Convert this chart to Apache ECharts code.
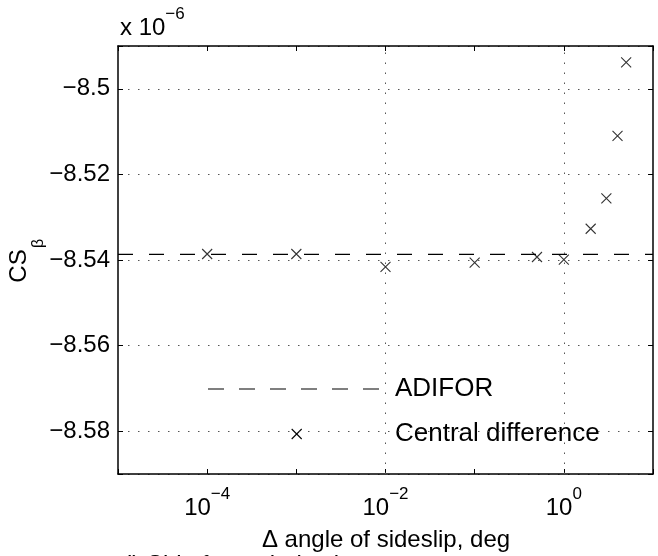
<!DOCTYPE html>
<html>
<head>
<meta charset="utf-8">
<script src="https://cdn.jsdelivr.net/npm/echarts@6/dist/echarts.min.js"></script>
<style>
  html, body { margin: 0; padding: 0; background: #ffffff; }
  #chart { width: 658px; height: 556px; }
</style>
</head>
<body>
<div id="chart"></div>
<script>
// step size (deg) and CS_beta values (x 1e-6)
const stepSizes = [1e-4, 1e-3, 1e-2, 1e-1, 0.5, 1, 2, 3, 4, 5];
const centralDiff = [-8.5386, -8.5386, -8.5416, -8.5406, -8.5393, -8.5399, -8.5327, -8.5256, -8.5110, -8.4938];
const adiforX = [1e-5, 10];
const adiforY = [-8.5387, -8.5387];
const gridDecades = [1e-4, 1e-2, 1];
const labelledExps = [-4, -2, 0];

const FONT = "'Liberation Sans', Arial, Helvetica, sans-serif";
const ink = '#000000';
const dotted = { color: '#555555', width: 1, type: [1.5, 8.5] };

const chart = echarts.init(document.getElementById('chart'), null, { renderer: 'canvas' });

const supRich = {
  b: { fontSize: 24, fontFamily: FONT, color: ink, lineHeight: 34, verticalAlign: 'bottom' },
  s: { fontSize: 17, fontFamily: FONT, color: ink, lineHeight: 17, verticalAlign: 'top' }
};

const logAxis = (pos, showLabels) => ({
  type: 'log',
  logBase: 10,
  min: 1e-5,
  max: 10,
  position: pos,
  axisLine: { show: true, lineStyle: { color: ink, width: 1.5 } },
  axisTick: { show: true, inside: true, length: 5, lineStyle: { color: ink, width: 1 } },
  minorTick: { show: false },
  splitLine: { show: false },
  axisLabel: {
    show: showLabels,
    margin: 12,
    rich: supRich,
    formatter: v => {
      const e = Math.round(Math.log10(v));
      if (!labelledExps.includes(e)) return '';
      return '{b|10}{s|' + (e < 0 ? '\u2212' + (-e) : e) + '}';
    }
  }
});

const valAxis = (pos, showLabels) => ({
  type: 'value',
  min: -8.59,
  max: -8.49,
  position: pos,
  axisLine: { show: true, lineStyle: { color: ink, width: 1.5 } },
  axisTick: { show: true, inside: true, length: 5, lineStyle: { color: ink, width: 1 } },
  splitLine: { show: showLabels, lineStyle: dotted },
  axisLabel: {
    show: showLabels,
    margin: 8,
    color: ink,
    fontSize: 24,
    fontFamily: FONT,
    formatter: v => {
      if (Math.abs(v * 50 - Math.round(v * 50)) > 1e-6) return '';
      return '\u2212' + String(parseFloat((-v).toFixed(2)));
    }
  }
});

const option = {
  backgroundColor: '#ffffff',
  animation: false,
  grid: { left: 118, top: 46, right: 5, bottom: 82, containLabel: false, outerBoundsMode: 'none' },
  xAxis: [logAxis('bottom', true), logAxis('top', false)],
  yAxis: [valAxis('left', true), valAxis('right', false)],
  series: [
    {
      name: 'ADIFOR',
      type: 'line',
      data: adiforX.map((x, i) => [x, adiforY[i]]),
      symbol: 'none',
      lineStyle: { color: ink, width: 1.2, type: [15, 16] },
      z: 3
    },
    {
      name: 'Central difference',
      type: 'scatter',
      data: stepSizes.map((x, i) => [x, centralDiff[i]]),
      symbol: 'path://M0,0L10,10M10,0L0,10',
      symbolSize: 10,
      itemStyle: { color: 'none', borderColor: ink, borderWidth: 1.1 },
      markLine: {
        silent: true,
        symbol: 'none',
        label: { show: false },
        lineStyle: dotted,
        data: gridDecades.map(v => ({ xAxis: v }))
      },
      z: 4
    }
  ],
  graphic: [
    // multiplier above the y axis
    { type: 'text', x: 120, y: 6, style: { text: '{b|x 10}{s|\u22126}', rich: supRich, fill: ink } },
    // y axis title
    { type: 'text', x: 19, y: 266, rotation: Math.PI / 2,
      style: { text: 'CS', font: '24px ' + FONT, fill: ink, align: 'center', verticalAlign: 'middle' } },
    { type: 'text', x: 38.5, y: 243.5, rotation: Math.PI / 2,
      style: { text: '\u03b2', font: '16px ' + FONT, fill: ink, align: 'center', verticalAlign: 'middle' } },
    // x axis title and caption
    { type: 'text', x: 386, y: 540,
      style: { text: '\u0394 angle of sideslip, deg', font: '24px ' + FONT, fill: ink, align: 'center', verticalAlign: 'middle' } },
    { type: 'text', x: 119, y: 553,
      style: { text: 'd) Side force derivative', font: '24px ' + FONT, fill: ink, align: 'left', verticalAlign: 'top' } },
    // legend
    { type: 'line', shape: { x1: 208, y1: 389, x2: 380, y2: 389 },
      style: { stroke: ink, lineWidth: 1.2, lineDash: [16, 15] } },
    { type: 'text', x: 395, y: 389,
      style: { text: 'ADIFOR', font: '26px ' + FONT, fill: ink, align: 'left', verticalAlign: 'middle' } },
    { type: 'line', shape: { x1: 291.7, y1: 429, x2: 301.7, y2: 439 }, style: { stroke: ink, lineWidth: 1.1 } },
    { type: 'line', shape: { x1: 291.7, y1: 439, x2: 301.7, y2: 429 }, style: { stroke: ink, lineWidth: 1.1 } },
    { type: 'text', x: 395, y: 434,
      style: { text: 'Central difference', font: '26px ' + FONT, fill: ink, align: 'left', verticalAlign: 'middle' } }
  ]
};

chart.setOption(option);
</script>
</body>
</html>
